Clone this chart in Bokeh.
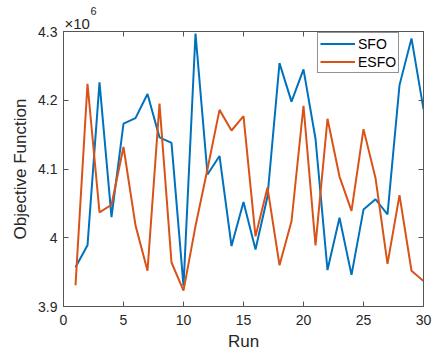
from bokeh.plotting import figure
from bokeh.models import LinearAxis, FixedTicker, Range1d, Legend, LegendItem, Title
from bokeh.embed import file_html
from bokeh.resources import INLINE

runs = list(range(1, 31))
sfo = [3.957e6, 3.989e6, 4.226e6, 4.030e6, 4.166e6, 4.174e6, 4.209e6, 4.146e6, 4.138e6, 3.930e6,
       4.297e6, 4.092e6, 4.119e6, 3.988e6, 4.052e6, 3.983e6, 4.060e6, 4.254e6, 4.198e6, 4.245e6,
       4.144e6, 3.953e6, 4.029e6, 3.946e6, 4.041e6, 4.056e6, 4.034e6, 4.222e6, 4.290e6, 4.187e6]
esfo = [3.931e6, 4.224e6, 4.037e6, 4.048e6, 4.132e6, 4.018e6, 3.952e6, 4.195e6, 3.964e6, 3.923e6,
        4.017e6, 4.100e6, 4.186e6, 4.156e6, 4.177e6, 4.002e6, 4.073e6, 3.960e6, 4.024e6, 4.192e6,
        3.989e6, 4.173e6, 4.089e6, 4.039e6, 4.158e6, 4.087e6, 3.962e6, 4.062e6, 3.952e6, 3.937e6]
series_names = ["SFO", "ESFO"]
series_colors = ["#0072BD", "#D95319"]
x_ticks = [0, 5, 10, 15, 20, 25, 30]
y_ticks = [3.9e6, 4.0e6, 4.1e6, 4.2e6, 4.3e6]
y_tick_labels = ["3.9", "4", "4.1", "4.2", "4.3"]
x_label = "Run"
y_label = "Objective Function"
exp_base = "\u00d710"
exp_power = "6"

FONT = "Liberation Sans"
TXT = "#262626"
AXC = "#555555"

p = figure(width=435, height=353, output_backend="svg", toolbar_location=None,
           x_range=Range1d(0, 30), y_range=Range1d(3.9e6, 4.3e6),
           min_border_left=63, min_border_right=12, min_border_top=31, min_border_bottom=47,
           x_axis_label=x_label, y_axis_label=y_label)
p.grid.visible = False
p.outline_line_color = AXC
p.outline_line_width = 1
p.background_fill_color = "white"
p.border_fill_color = "white"

r1 = p.line(runs, sfo, line_color=series_colors[0], line_width=2)
r2 = p.line(runs, esfo, line_color=series_colors[1], line_width=2)

def style(ax, show_labels=True):
    ax.axis_line_color = AXC
    ax.major_tick_line_color = AXC
    ax.major_tick_in = 5
    ax.major_tick_out = 0
    ax.minor_tick_line_color = None
    ax.major_label_text_font = FONT
    ax.major_label_text_color = TXT
    ax.major_label_text_font_size = "14px"
    ax.major_label_text_line_height = 1.0
    ax.axis_label_text_font = FONT
    ax.axis_label_text_color = TXT
    ax.axis_label_text_font_size = "17px"
    ax.axis_label_text_font_style = "normal"
    ax.axis_label_text_line_height = 1.0
    if not show_labels:
        ax.major_label_text_font_size = "0px"
        ax.major_label_standoff = 0
        ax.axis_label = None

p.xaxis.ticker = FixedTicker(ticks=x_ticks)
p.yaxis.ticker = FixedTicker(ticks=y_ticks)
p.yaxis.major_label_overrides = {t: l for t, l in zip(y_ticks, y_tick_labels)}
style(p.xaxis[0])
style(p.yaxis[0])
p.xaxis.major_label_standoff = 8
p.xaxis.axis_label_standoff = 4
p.yaxis.major_label_standoff = 6
p.yaxis.axis_label_standoff = 5

top = LinearAxis(ticker=FixedTicker(ticks=x_ticks))
right = LinearAxis(ticker=FixedTicker(ticks=y_ticks))
style(top, False)
style(right, False)
top.major_label_overrides = {t: "" for t in x_ticks}
right.major_label_overrides = {t: "" for t in y_ticks}
p.add_layout(top, "above")
p.add_layout(right, "right")

t1 = Title(text=exp_base, align="left", offset=1, standoff=-1,
           text_font=FONT, text_font_size="15px", text_color=TXT, text_font_style="normal")
t2 = Title(text=exp_power, align="left", offset=27, standoff=-3,
           text_font=FONT, text_font_size="11px", text_color=TXT, text_font_style="normal")
p.add_layout(t1, "above")
p.add_layout(t2, "above")

legend = Legend(items=[LegendItem(label=series_names[0], renderers=[r1]),
                       LegendItem(label=series_names[1], renderers=[r2])],
                location=(254, 233))
legend.border_line_color = "#262626"
legend.border_line_width = 1
legend.label_text_font = FONT
legend.label_text_font_size = "14px"
legend.label_text_color = "black"
legend.padding = 2
legend.spacing = 1
legend.margin = 0
legend.glyph_width = 35
legend.glyph_height = 17
legend.label_height = 17
legend.label_standoff = 3
legend.background_fill_alpha = 1
p.add_layout(legend, "center")

open("out.html", "w").write(file_html(p, INLINE))
